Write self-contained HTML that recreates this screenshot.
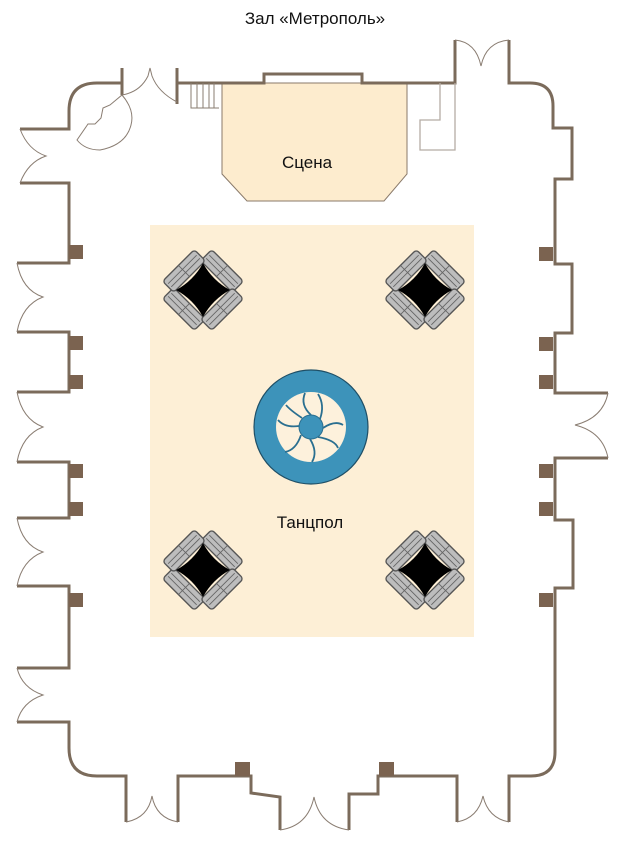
<!DOCTYPE html>
<html><head><meta charset="utf-8"><style>
html,body{margin:0;padding:0;background:#fff;width:620px;height:844px;overflow:hidden}
svg{display:block}
text{font-family:"Liberation Sans",sans-serif}
</style></head><body>
<svg width="620" height="844" viewBox="0 0 620 844" xmlns="http://www.w3.org/2000/svg">
<defs>
<g id="chairs">
  <g transform="rotate(45)">
    <g fill="#bdbdbd" stroke="#555" stroke-width="1.2">
      <rect x="-20" y="-31" width="40" height="14" rx="3"/>
      <rect x="-20" y="17" width="40" height="14" rx="3"/>
      <rect x="-31" y="-20" width="14" height="40" rx="3"/>
      <rect x="17" y="-20" width="14" height="40" rx="3"/>
    </g>
    <g stroke="#666" stroke-width="0.8" fill="none">
      <line x1="-18" y1="-26" x2="18" y2="-26"/><line x1="-18" y1="-22" x2="18" y2="-22"/><line x1="0" y1="-31" x2="0" y2="-17"/>
      <line x1="-18" y1="26" x2="18" y2="26"/><line x1="-18" y1="22" x2="18" y2="22"/><line x1="0" y1="31" x2="0" y2="17"/>
      <line x1="-26" y1="-18" x2="-26" y2="18"/><line x1="-22" y1="-18" x2="-22" y2="18"/><line x1="-31" y1="0" x2="-17" y2="0"/>
      <line x1="26" y1="-18" x2="26" y2="18"/><line x1="22" y1="-18" x2="22" y2="18"/><line x1="31" y1="0" x2="17" y2="0"/>
    </g>
    <path d="M-17,-17 Q0,-12 17,-17 Q12,0 17,17 Q0,12 -17,17 Q-12,0 -17,-17Z" fill="#000"/>
  </g>
</g>
</defs>

<text x="315" y="24" font-size="17" text-anchor="middle" fill="#111">Зал «Метрополь»</text>

<rect x="150" y="225" width="324" height="412" fill="#fdefd6"/>

<path d="M222,83 L222,174 L247,201 L384,201 L407,174 L407,83 Z" fill="#fdecce" stroke="#8a7a6a" stroke-width="1"/>
<text x="307" y="168" font-size="17" text-anchor="middle" fill="#111">Сцена</text>

<g fill="none" stroke="#7b6b5b" stroke-width="3" stroke-linejoin="miter">
  <path d="M122,83 L97,83 Q69,83 69,111 L69,129 L20,129 M20,183 L69,183 L69,263 L17,263 M17,332 L69,332 L69,392 L17,392 M17,462 L69,462 L69,518 L17,518 M17,586 L69,586 L69,668 L17,668 M17,722 L69,722 L69,748 Q69,776 97,776 L126,776 L126,822 M178,822 L178,776 L251,776 L251,793 L280,797 L280,830 M349,830 L349,794 L378,794 L378,776 L457,776 L457,822 M509,822 L509,776 L531,776 Q555,776 555,752 L555,588 L573,588 L573,520 L555,520 L555,458 L608,458 M608,393 L555,393 L555,333 L572,333 L572,264 L555,264 L555,179 L572,179 L572,128 L553,128 L553,106 Q553,83 530,83 L509,83 L509,40 M455,40 L455,83 L362,83 L362,74 L264,74 L264,83 L177,83"/>
  <path d="M122,68 L122,95 M177,68 L177,104"/>
</g>

<g fill="#7b6350">
  <rect x="69" y="245" width="14" height="14"/><rect x="69" y="336" width="14" height="14"/><rect x="69" y="375" width="14" height="14"/>
  <rect x="69" y="464" width="14" height="14"/><rect x="69" y="502" width="14" height="14"/><rect x="69" y="593" width="14" height="14"/>
  <rect x="539" y="247" width="14" height="14"/><rect x="539" y="337" width="14" height="14"/><rect x="539" y="375" width="14" height="14"/>
  <rect x="539" y="464" width="14" height="14"/><rect x="539" y="502" width="14" height="14"/><rect x="539" y="593" width="14" height="14"/>
  <rect x="235" y="762" width="15" height="14"/><rect x="379" y="762" width="15" height="14"/>
</g>

<g fill="none" stroke="#8a7d72" stroke-width="1">
  <path d="M20,129 Q28,150 46,156 Q28,162 20,183"/>
  <path d="M17,263 Q22,290 43,297 Q22,305 17,332"/>
  <path d="M17,392 Q22,419 43,427 Q22,435 17,462"/>
  <path d="M17,518 Q22,545 43,552 Q22,560 17,586"/>
  <path d="M17,668 Q22,688 43,695 Q22,702 17,722"/>
  <path d="M608,393 Q603,418 575,425 Q603,432 608,458"/>
  <path d="M126,822 Q148,818 152,796 Q156,818 178,822"/>
  <path d="M280,830 Q308,826 314,797 Q320,826 349,830"/>
  <path d="M457,822 Q478,818 483,796 Q488,818 509,822"/>
  <path d="M455,40 Q476,42 481,66 Q486,42 509,40"/>
  <path d="M122,95 Q140,92 148,76 L150,68 L152,76 Q158,92 177,102"/>
  <path d="M122,95 Q135,110 131,125 Q126,145 100,150 Q85,150 77,140 L88,124 L95,124 L101,118 L103,108 L110,105 Z"/>
</g>

<g fill="none" stroke="#8a7d72" stroke-width="1">
  <path d="M191,83 L191,108 L219,108 M197,83 L197,108 M203,83 L203,108 M209,83 L209,108 M214,83 L214,108"/>
</g>

<path d="M440,83 L440,120 L420,120 L420,150 L455,150 L455,83" fill="none" stroke="#b5aca4" stroke-width="1.3"/>

<use href="#chairs" transform="translate(203,290) scale(1.12)"/>
<use href="#chairs" transform="translate(425,290) scale(1.12)"/>
<use href="#chairs" transform="translate(203,570) scale(1.12)"/>
<use href="#chairs" transform="translate(425,570) scale(1.12)"/>

<circle cx="311" cy="427" r="57" fill="#3d93ba" stroke="#1f4f66" stroke-width="1.2"/>
<circle cx="311" cy="427" r="35" fill="#fdf1dc"/>
<g fill="none" stroke="#2a6f90" stroke-width="1.8">
  <path d="M311,415 Q300,405 305,393"/>
  <path d="M320,419 Q325,405 318,394"/>
  <path d="M323,428 Q335,420 343,425"/>
  <path d="M318,437 Q335,440 338,448"/>
  <path d="M310,439 Q318,452 312,462"/>
  <path d="M301,435 Q296,450 285,452"/>
  <path d="M299,426 Q285,428 278,420"/>
  <path d="M302,418 Q290,410 286,405"/>
</g>
<circle cx="311" cy="427" r="12" fill="#3d93ba" stroke="#2a6f90" stroke-width="1"/>

<text x="310" y="528" font-size="17" text-anchor="middle" fill="#111">Танцпол</text>
</svg>
</body></html>
